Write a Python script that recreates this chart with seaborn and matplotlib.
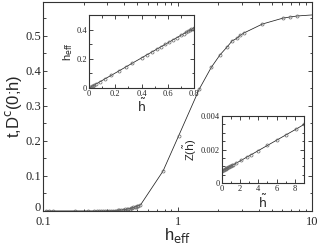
import numpy as np
import pandas as pd
import matplotlib
matplotlib.use("Agg")
import matplotlib.pyplot as plt
import seaborn as sns
from matplotlib.ticker import MultipleLocator, LogLocator, NullFormatter

# main curve: t*D^c(0;h) vs h_eff
h_eff = [0.105, 0.111, 0.118, 0.173, 0.215, 0.24, 0.25, 0.26, 0.27, 0.28, 0.29,
         0.30, 0.31, 0.32, 0.33, 0.34, 0.35, 0.36, 0.37, 0.38, 0.39, 0.40, 0.41,
         0.42, 0.43, 0.44, 0.45, 0.46, 0.47, 0.48, 0.49, 0.50, 0.51, 0.53,
         0.78, 1.02, 1.45, 1.78, 2.07, 2.33, 2.55, 2.76, 2.93, 3.14, 4.28,
         6.1, 6.85, 7.78, 11.0]
tD = [0.0, 0.0, 0.0, 0.0, 0.0, 0.0, 0.0, 0.0, 0.0, 0.0, 0.0,
      0.0, 0.0002, 0.0004, 0.0006, 0.0009, 0.0012, 0.0016, 0.002, 0.0025, 0.003,
      0.0036, 0.0042, 0.005, 0.0058, 0.0067, 0.0077, 0.0088, 0.010, 0.011,
      0.0125, 0.014, 0.0155, 0.017,
      0.114, 0.215, 0.348, 0.41, 0.446, 0.468, 0.486, 0.493, 0.502, 0.509,
      0.534, 0.551, 0.554, 0.557, 0.561]

# inset 1: h_eff vs h~
ht1 = [0.0, 0.01, 0.02, 0.03, 0.04, 0.05, 0.08, 0.12, 0.17, 0.23, 0.28, 0.33,
       0.40, 0.44, 0.48, 0.52, 0.55, 0.58, 0.61, 0.64, 0.67, 0.70, 0.72,
       0.74, 0.755, 0.77, 0.78, 0.79, 0.80]
heff1 = [0.0, 0.005, 0.01, 0.015, 0.02, 0.026, 0.041, 0.062, 0.087, 0.118,
         0.144, 0.17, 0.206, 0.227, 0.247, 0.268, 0.283, 0.299, 0.314, 0.33,
         0.345, 0.361, 0.371, 0.381, 0.389, 0.397, 0.402, 0.407, 0.412]

# inset 2: Z(h~) vs h~
ht2 = [0.0, 0.1, 0.2, 0.3, 0.4, 0.5, 0.6, 0.7, 0.8, 0.9, 1.0, 1.1, 1.2,
       1.5, 2.1, 2.7, 3.2, 4.0, 5.0, 6.0, 7.0, 8.1, 9.0]
Z2 = [0.00072, 0.00075, 0.00078, 0.00081, 0.00084, 0.00087, 0.0009, 0.00093,
      0.00096, 0.00099, 0.00102, 0.00105, 0.00108, 0.00117, 0.00135, 0.00154,
      0.00169, 0.00194, 0.00225, 0.00256, 0.00287, 0.00321, 0.00350]

sns.set_style("ticks")
plt.rcParams['font.family'] = ['Liberation Serif', 'DejaVu Serif']
plt.rcParams['mathtext.fontset'] = 'dejavusans'

fig = plt.figure(figsize=(3.24, 2.45), dpi=100)
ax = fig.add_axes([0.133, 0.139, 0.830, 0.853])

sans = ['Liberation Sans', 'DejaVu Sans']
mk = dict(marker='o', markersize=2.2, markerfacecolor='none',
          markeredgecolor='#666666', markeredgewidth=0.5,
          color='#222222', linewidth=0.55, estimator=None, sort=False)


def style_axes(a, size):
    a.tick_params(which='both', direction='in', top=True, right=True,
                  labelsize=size, width=0.6, pad=1.5)
    a.tick_params(which='major', length=3)
    a.tick_params(which='minor', length=1.8)
    for s in a.spines.values():
        s.set_linewidth(0.8)
        s.set_color('#333333')


sns.lineplot(x=h_eff, y=tD, ax=ax, **mk)
ax.set_xscale('log')
ax.set_xlim(0.1, 10)
ax.set_ylim(0, 0.597)
ax.yaxis.set_major_locator(MultipleLocator(0.1))
ax.yaxis.set_minor_locator(MultipleLocator(0.05))
ax.xaxis.set_major_locator(LogLocator(base=10))
ax.xaxis.set_minor_locator(LogLocator(base=10, subs=np.arange(2, 10)))
ax.xaxis.set_minor_formatter(NullFormatter())
ax.set_xticks([0.1, 1, 10])
ax.set_xticklabels(['0.1', '1', '10'])
ax.set_yticks([0, 0.1, 0.2, 0.3, 0.4, 0.5])
ax.set_yticklabels(['0', '0.1', '0.2', '0.3', '0.4', '0.5'])
style_axes(ax, 9)
ax.tick_params(axis='x', which='both', pad=3.5)
ax.get_yticklabels()[0].set_verticalalignment('baseline')
ax.set_xlabel(r'h$_{\mathrm{eff}}$', family=sans, fontsize=12, labelpad=-1)
ax.set_ylabel(r't,D$^{\mathrm{c}}$(0;h)', family=sans, fontsize=12, labelpad=1)

# inset 1
ax1 = fig.add_axes([0.275, 0.641, 0.324, 0.298])
sns.lineplot(x=ht1, y=heff1, ax=ax1, **mk)
ax1.set_xlim(0, 0.8)
ax1.set_ylim(0, 0.5)
ax1.set_xticks([0, 0.2, 0.4, 0.6, 0.8])
ax1.set_xticklabels(['0', '0.2', '0.4', '0.6', '0.8'])
ax1.set_yticks([0, 0.2, 0.4])
ax1.set_yticklabels(['0', '0.2', '0.4'])
ax1.xaxis.set_minor_locator(MultipleLocator(0.1))
ax1.yaxis.set_minor_locator(MultipleLocator(0.1))
style_axes(ax1, 6)
ax1.set_xlabel(r'$\tilde{\mathrm{h}}$', family=sans, fontsize=9, labelpad=0)
ax1.set_ylabel(r'h$_{\mathrm{eff}}$', family=sans, fontsize=8, labelpad=1)

# inset 2
ax2 = fig.add_axes([0.685, 0.253, 0.253, 0.273])
sns.lineplot(x=ht2, y=Z2, ax=ax2, **mk)
ax2.set_xlim(0, 9)
ax2.set_ylim(0, 0.004)
ax2.set_xticks([0, 2, 4, 6, 8])
ax2.set_xticklabels(['0', '2', '4', '6', '8'])
ax2.set_yticks([0, 0.002, 0.004])
ax2.set_yticklabels(['0', '0.002', '0.004'])
ax2.xaxis.set_minor_locator(MultipleLocator(1))
ax2.yaxis.set_minor_locator(MultipleLocator(0.0005))
style_axes(ax2, 6)
ax2.set_xlabel(r'$\tilde{\mathrm{h}}$', family=sans, fontsize=9, labelpad=0)
ax2.set_ylabel(r'Z($\tilde{\mathrm{h}}$)', family=sans, fontsize=8, labelpad=1)

fig.savefig('out.png', dpi=100)
